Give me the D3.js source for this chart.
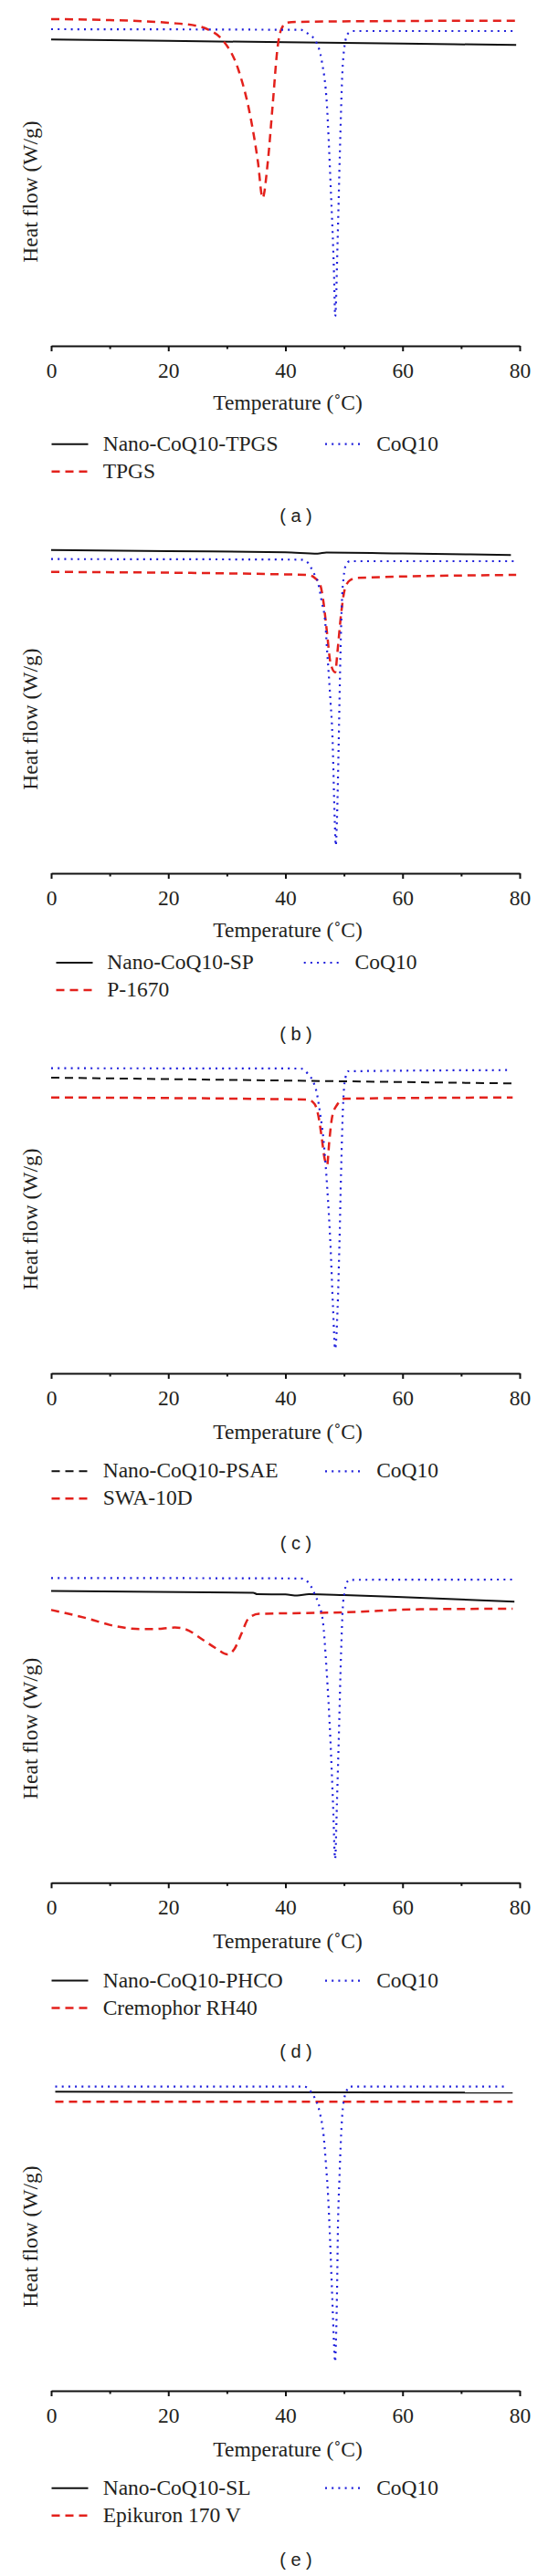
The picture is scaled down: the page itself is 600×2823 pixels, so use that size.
<!DOCTYPE html>
<html><head><meta charset="utf-8">
<script src="https://cdn.jsdelivr.net/npm/d3@7"></script>
<style>body{margin:0;background:#fff}</style>
</head><body>
<svg id="chart" width="600" height="2823"></svg>
<script>
// ---------- DATA (temperature °C, relative heat flow) ----------
const xTicks = [0, 20, 40, 60, 80];
const xMinorTicks = [10, 30, 50, 70];
const xLabel = "Temperature (˚C)";
const yLabel = "Heat flow (W/g)";
const panelLetters = ["a", "b", "c", "d", "e"];

const namesA = ["Nano-CoQ10-TPGS", "TPGS", "CoQ10"];
const namesB = ["Nano-CoQ10-SP", "P-1670", "CoQ10"];
const namesC = ["Nano-CoQ10-PSAE", "SWA-10D", "CoQ10"];
const namesD = ["Nano-CoQ10-PHCO", "Cremophor RH40", "CoQ10"];
const namesE = ["Nano-CoQ10-SL", "Epikuron 170 V", "CoQ10"];

// (a)
const aNano = [[0,33.57],[20,33.42],[40,33.27],[60,33.12],[79.4,32.97]];
const aTPGS = [[0,35.8],[10,35.7],[20,35.4],[25,35.05],[27,34.6],[29,33.7],[32,30.2],[34,25.2],[35.3,20.2],[36.1,16.2],[37,20.2],[37.8,26.2],[38.7,32.9],[39.3,34.7],[40.2,35.4],[42,35.5],[60,35.6],[79.4,35.63]];
const aCoQ10 = [[0,34.7],[42.6,34.63],[43.8,34.23],[45.3,33.23],[46.2,31.23],[47.1,26.23],[47.7,17.9],[48.3,7.9],[48.5,3.23],[48.9,11.23],[49.3,21.23],[49.7,29.57],[50.1,32.9],[50.7,34.23],[51.6,34.5],[79,34.5]];
// (b)
const bNano = [[0,35.43],[20,35.3],[40,35.18],[45.5,35.03],[47,35.15],[60,35.05],[78.5,34.87]];
const bP1670 = [[0,33.03],[43.8,32.7],[45.0,32.37],[45.9,31.7],[46.5,29.7],[47.1,26.37],[47.7,23.03],[48.5,22.03],[48.9,24.37],[49.5,28.37],[50.1,31.03],[51,32.1],[52.2,32.37],[79.4,32.7]];
const bCoQ10 = [[0,34.43],[42.6,34.37],[43.83,34.03],[44.72,33.03],[45.62,31.7],[46.22,29.7],[46.82,27.37],[47.12,24.37],[47.41,21.7],[47.71,18.7],[48.01,15.37],[48.43,5.7],[48.6,3.03],[48.79,5.7],[49.09,14.03],[49.33,22.03],[49.51,27.03],[49.69,30.37],[49.93,32.37],[50.28,33.7],[51.0,34.2],[79.4,34.2]];
// (c)
const cNano = [[0,32.4],[40,32.08],[78.8,31.77]];
const cSWA = [[0,30.23],[43.8,30.0],[45.0,29.5],[45.74,27.83],[46.2,25.83],[46.7,23.5],[47.12,22.83],[47.5,25.5],[48.0,28.17],[48.9,29.5],[50.1,30.1],[78.8,30.23]];
const cCoQ10 = [[0,33.43],[42.6,33.4],[43.83,32.83],[44.72,32.0],[45.32,30.83],[45.92,28.5],[46.52,25.5],[47.12,20.5],[47.71,13.83],[48.13,7.17],[48.49,2.67],[48.91,7.17],[49.21,13.83],[49.51,22.17],[49.81,28.83],[50.1,31.83],[50.7,33.1],[78.5,33.23]];
// (d)
const dNano = [[0,31.97],[34.5,31.78],[35.2,31.63],[40,31.6],[42,31.47],[44,31.63],[50,31.53],[60,31.3],[79.1,30.8]];
const dRH40 = [[0,29.9],[6.2,28.97],[10.9,28.13],[15.1,27.8],[17.5,27.8],[21.1,27.97],[22.9,27.8],[25.9,26.63],[28.3,25.63],[30.1,25.03],[31.3,25.63],[32.5,27.3],[33.7,28.97],[35.5,29.47],[45,29.57],[49.8,29.63],[63,29.97],[78.8,30.03]];
const dCoQ10 = [[0,33.4],[42.6,33.35],[43.83,32.97],[45.0,31.63],[45.62,30.63],[46.4,28.63],[47.0,23.63],[47.71,15.3],[48.13,8.63],[48.49,2.63],[48.79,8.63],[49.09,15.3],[49.51,25.3],[49.81,30.3],[50.1,31.8],[50.4,32.8],[51.0,33.2],[79.1,33.23]];
// (e)
const eNano = [[0.7,32.77],[78.8,32.67]];
const eEpikuron = [[0.7,31.67],[78.8,31.67]];
const eCoQ10 = [[0.7,33.33],[43.23,33.33],[44.72,32.4],[45.32,31.67],[45.92,30.33],[46.52,28.0],[46.94,24.67],[47.29,21.33],[47.53,18.0],[48.01,10.0],[48.31,5.0],[48.49,3.17],[48.61,5.0],[48.79,10.0],[48.97,18.0],[49.21,23.0],[49.51,28.0],[49.81,31.0],[50.4,32.8],[51.0,33.33],[78,33.33]];

// ---------- STYLES & LAYOUT ----------
const styleDefs = {
  solid:     {stroke: "#111", dash: null,    w: 2},
  blackDash: {stroke: "#111", dash: "9,6",   w: 2},
  red:       {stroke: "#e3211c", dash: "9,6", w: 2.5},
  blue:      {stroke: "#1f1fdc", dash: "2,5.2", w: 2.2}
};

const panels = [
  {letter: panelLetters[0], names: namesA, series: [aNano, aTPGS, aCoQ10], styles: ["solid","red","blue"],
   top: 0, rows: [107.7,137.7], cols: [56.5,356], textGap: 16.2, tempDy: 70, labelDy: 193},
  {letter: panelLetters[1], names: namesB, series: [bNano, bP1670, bCoQ10], styles: ["solid","red","blue"],
   top: 578, rows: [98,128], cols: [61.5,332.7], textGap: 15.8, tempDy: 70, labelDy: 183},
  {letter: panelLetters[2], names: namesC, series: [cNano, cSWA, cCoQ10], styles: ["blackDash","red","blue"],
   top: 1126, rows: [107.3,137.3], cols: [56.5,356], textGap: 16.2, tempDy: 71.5, labelDy: 193},
  {letter: panelLetters[3], names: namesD, series: [dNano, dRH40, dCoQ10], styles: ["solid","red","blue"],
   top: 1684.3, rows: [107.3,137.3], cols: [56.5,356], textGap: 16.2, tempDy: 71.5, labelDy: 192},
  {letter: panelLetters[4], names: namesE, series: [eNano, eEpikuron, eCoQ10], styles: ["solid","red","blue"],
   top: 2241, rows: [106.7,136.7], cols: [56.5,356], textGap: 16.2, tempDy: 71.5, labelDy: 192}
];

const plotH = 379;
const serif = "'Liberation Serif','Times New Roman',serif";
const textColor = "#231f20";
const fs = 23.5;

const svg = d3.select("#chart");
const x = d3.scaleLinear().domain([0, 80]).range([56, 569]);
const y = d3.scaleLinear().domain([0, 37.9]).range([plotH, 0]);
const line = d3.line().x(d => x(d[0])).y(d => y(d[1])).curve(d3.curveMonotoneX);

function applyStyle(sel, key) {
  const s = styleDefs[key];
  sel.attr("fill", "none").attr("stroke", s.stroke).attr("stroke-width", s.w)
     .attr("stroke-dasharray", s.dash).attr("stroke-linecap", "butt").attr("stroke-linejoin", "round");
}

panels.forEach(p => {
  const g = svg.append("g").attr("transform", `translate(0,${p.top})`);

  // series
  p.series.forEach((data, i) => {
    g.append("path").datum(data).attr("d", line).call(applyStyle, p.styles[i]);
  });

  // x axis
  const ax = g.append("g").attr("transform", `translate(0,${plotH})`)
    .call(d3.axisBottom(x).tickValues(xTicks).tickSize(6).tickSizeOuter(0).tickPadding(12));
  ax.select(".domain").attr("stroke", "#111").attr("stroke-width", 2);
  ax.selectAll(".tick line").attr("stroke", "#111").attr("stroke-width", 2);
  ax.selectAll(".tick text").attr("font-family", serif).attr("font-size", fs).attr("fill", textColor);

  const mx = g.append("g").attr("transform", `translate(0,${plotH})`)
    .call(d3.axisBottom(x).tickValues(xMinorTicks).tickSize(3.5).tickFormat(""));
  mx.select(".domain").remove();
  mx.selectAll(".tick line").attr("stroke", "#111").attr("stroke-width", 2);

  // axis titles
  g.append("text").attr("x", 315).attr("y", plotH + p.tempDy)
    .attr("text-anchor", "middle").attr("font-family", serif).attr("font-size", fs)
    .attr("fill", textColor).text(xLabel);
  g.append("text").attr("transform", `translate(41,${plotH - 169}) rotate(-90)`)
    .attr("text-anchor", "middle").attr("font-family", serif).attr("font-size", fs)
    .attr("fill", textColor).text(yLabel);

  // legend: row1 col1 = series0, row1 col2 = series2, row2 col1 = series1
  const slots = [[0, 0, 0], [1, 1, 0], [2, 0, 1]];
  slots.forEach(([si, row, col]) => {
    const ly = plotH + p.rows[row];
    const lx = p.cols[col];
    g.append("line").attr("x1", lx).attr("x2", lx + 40).attr("y1", ly).attr("y2", ly)
      .call(applyStyle, p.styles[si]);
    g.append("text").attr("x", lx + 40 + p.textGap).attr("y", ly + 7)
      .attr("font-family", serif).attr("font-size", fs).attr("fill", textColor)
      .text(p.names[si]);
  });

  // panel letter
  g.append("text").attr("x", 324).attr("y", plotH + p.labelDy)
    .attr("text-anchor", "middle").attr("font-family", "'Liberation Sans',Arial,sans-serif")
    .attr("font-size", 20).attr("fill", textColor).attr("xml:space", "preserve")
    .style("white-space", "pre").text(`( ${p.letter} )`);
});
</script>
</body></html>
